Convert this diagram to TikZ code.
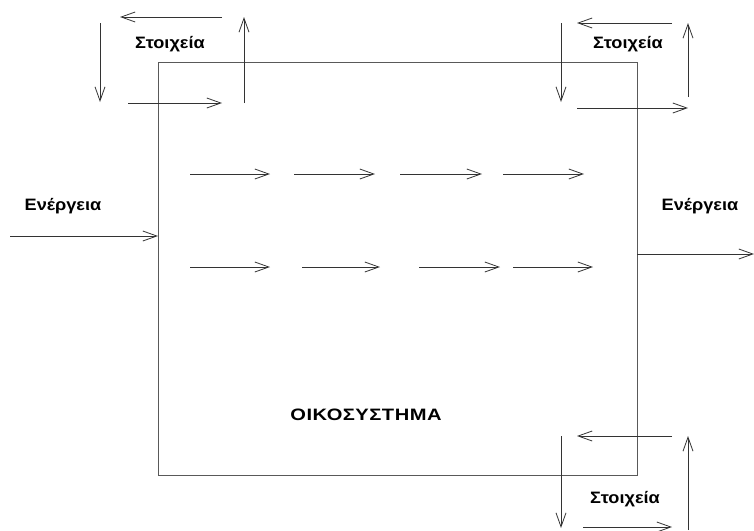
\documentclass[tikz,border=0pt]{standalone}
\usepackage{fontspec}
\setmainfont{Liberation Sans}
\newfontfamily\lblfont[FakeStretch=1.1]{Liberation Sans}
\newfontfamily\titlefont[FakeStretch=1.22,LetterSpace=3]{Liberation Sans}
\usetikzlibrary{arrows.meta}
\tikzset{
  flow/.style={line width=0.9pt, draw=black!80, -{Straight Barb[length=14pt,width=10pt,line width=0.8pt]}},
  boxline/.style={line width=1pt, draw=black!65},
  lbl/.style={font=\lblfont\bfseries\fontsize{16.5}{18}\selectfont, inner sep=0pt, anchor=base},
  title/.style={font=\titlefont\bfseries\fontsize{16.5}{18}\selectfont, inner sep=0pt, anchor=base}
}
\begin{document}
\begin{tikzpicture}[x=1pt,y=-1pt]
\useasboundingbox (0,0) rectangle (754,530);
% ecosystem box
\node[boxline, draw, minimum width=479pt, minimum height=413pt, inner sep=0pt, anchor=north west] (eco) at (158,62) {};
\node[title] (name) at (366,420) {ΟΙΚΟΣΥΣΤΗΜΑ};
% energy
\node[lbl] (ein) at (63,210) {Ενέργεια};
\node[lbl] (eout) at (700,210) {Ενέργεια};
\coordinate (ein0) at (10,236);
\coordinate (ein1) at (158,236);
\coordinate (eout0) at (637,254);
\coordinate (eout1) at (754,254);
\draw[flow] (ein0) -- (ein1);
\draw[flow] (eout0) -- (eout1);
% top-left cycle
\node[lbl] (s1) at (170,48) {Στοιχεία};
\coordinate (a1) at (222,17); \coordinate (a2) at (120,17);
\coordinate (b1) at (100,23); \coordinate (b2) at (100,102);
\coordinate (c1) at (128,103); \coordinate (c2) at (222,103);
\coordinate (d1) at (244,103); \coordinate (d2) at (244,17);
\draw[flow] (a1) -- (a2);
\draw[flow] (b1) -- (b2);
\draw[flow] (c1) -- (c2);
\draw[flow] (d1) -- (d2);
% top-right cycle
\node[lbl] (s2) at (628,48) {Στοιχεία};
\coordinate (e1) at (672,23); \coordinate (e2) at (577,23);
\coordinate (f1) at (561,23); \coordinate (f2) at (561,102);
\coordinate (g1) at (577,108); \coordinate (g2) at (688,108);
\coordinate (h1) at (688,97); \coordinate (h2) at (688,23);
\draw[flow] (e1) -- (e2);
\draw[flow] (f1) -- (f2);
\draw[flow] (g1) -- (g2);
\draw[flow] (h1) -- (h2);
% bottom-right cycle
\node[lbl] (s3) at (625,503) {Στοιχεία};
\coordinate (i1) at (672,436); \coordinate (i2) at (577,436);
\coordinate (j1) at (561,436); \coordinate (j2) at (561,528);
\coordinate (k1) at (583,527); \coordinate (k2) at (672,527);
\coordinate (l1) at (688,530); \coordinate (l2) at (688,436);
\draw[flow] (i1) -- (i2);
\draw[flow] (j1) -- (j2);
\draw[flow] (k1) -- (k2);
\draw[flow] (l1) -- (l2);
% inner flows row 1
\coordinate (r1a) at (190,174); \coordinate (r1b) at (270,174);
\coordinate (r1c) at (294,174); \coordinate (r1d) at (375,174);
\coordinate (r1e) at (400,174); \coordinate (r1f) at (482,174);
\coordinate (r1g) at (503,174); \coordinate (r1h) at (584,174);
\draw[flow] (r1a) -- (r1b);
\draw[flow] (r1c) -- (r1d);
\draw[flow] (r1e) -- (r1f);
\draw[flow] (r1g) -- (r1h);
% inner flows row 2
\coordinate (r2a) at (190,267); \coordinate (r2b) at (270,267);
\coordinate (r2c) at (302,267); \coordinate (r2d) at (380,267);
\coordinate (r2e) at (419,267); \coordinate (r2f) at (500,267);
\coordinate (r2g) at (513,267); \coordinate (r2h) at (593,267);
\draw[flow] (r2a) -- (r2b);
\draw[flow] (r2c) -- (r2d);
\draw[flow] (r2e) -- (r2f);
\draw[flow] (r2g) -- (r2h);
\end{tikzpicture}
\end{document}
